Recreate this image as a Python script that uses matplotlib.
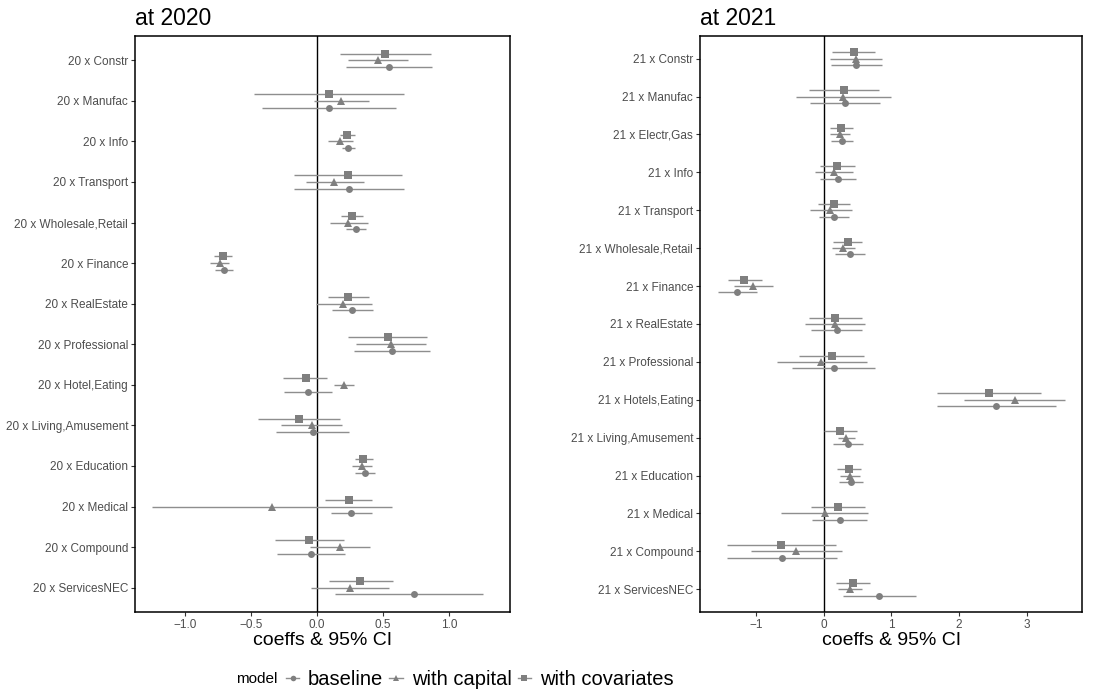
import numpy as np
import matplotlib.pyplot as plt
from matplotlib.lines import Line2D

plt.rcParams['font.family'] = ['Liberation Sans', 'DejaVu Sans']

# ---- data: 2020 ----
cats20 = ['Constr', 'Manufac', 'Info', 'Transport', 'Wholesale,Retail', 'Finance',
          'RealEstate', 'Professional', 'Hotel,Eating', 'Living,Amusement',
          'Education', 'Medical', 'Compound', 'ServicesNEC']

base20 = [0.543, 0.091, 0.237, 0.240, 0.295, -0.705, 0.268, 0.571, -0.068, -0.033, 0.364, 0.260, -0.045, 0.732]
base20_lo = [0.217, -0.414, 0.192, -0.174, 0.217, -0.773, 0.114, 0.283, -0.250, -0.308, 0.285, 0.109, -0.303, 0.136]
base20_hi = [0.871, 0.601, 0.285, 0.657, 0.374, -0.634, 0.424, 0.859, 0.116, 0.245, 0.442, 0.417, 0.215, 1.258]

cap20 = [0.462, 0.184, 0.177, 0.131, 0.237, -0.737, 0.199, 0.563, 0.205, -0.040, 0.338, -0.338, 0.172, 0.253]
cap20_lo = [0.237, -0.025, 0.086, -0.086, 0.096, -0.813, -0.008, 0.295, 0.126, -0.273, 0.265, -1.250, -0.056, -0.043]
cap20_hi = [0.692, 0.396, 0.275, 0.354, 0.384, -0.667, 0.417, 0.828, 0.283, 0.189, 0.417, 0.571, 0.404, 0.548]

cov20 = [0.515, 0.093, 0.227, 0.235, 0.263, -0.712, 0.235, 0.540, -0.086, -0.136, 0.351, 0.242, -0.058, 0.328]
cov20_lo = [0.172, -0.475, 0.172, -0.174, 0.184, -0.783, 0.086, 0.237, -0.255, -0.449, 0.285, 0.061, -0.318, 0.088]
cov20_hi = [0.864, 0.659, 0.288, 0.646, 0.348, -0.646, 0.396, 0.833, 0.073, 0.174, 0.422, 0.419, 0.205, 0.576]

# ---- data: 2021 ----
cats21 = ['Constr', 'Manufac', 'Electr,Gas', 'Info', 'Transport', 'Wholesale,Retail',
          'Finance', 'RealEstate', 'Professional', 'Hotels,Eating', 'Living,Amusement',
          'Education', 'Medical', 'Compound', 'ServicesNEC']

base21 = [0.473, 0.316, 0.271, 0.207, 0.153, 0.390, -1.282, 0.192, 0.148, 2.554, 0.360, 0.404, 0.237, -0.621, 0.823]
base21_lo = [0.113, -0.202, 0.108, -0.054, -0.074, 0.168, -1.568, -0.182, -0.473, 1.681, 0.143, 0.232, -0.173, -1.435, 0.281]
base21_hi = [0.858, 0.838, 0.439, 0.473, 0.380, 0.607, -0.991, 0.567, 0.759, 3.432, 0.577, 0.582, 0.641, 0.202, 1.366]

cap21 = [0.483, 0.291, 0.237, 0.148, 0.094, 0.291, -1.045, 0.163, -0.035, 2.821, 0.325, 0.390, 0.015, -0.409, 0.394]
cap21_lo = [0.099, -0.404, 0.094, -0.128, -0.202, 0.118, -1.331, -0.281, -0.695, 2.076, 0.217, 0.237, -0.631, -1.075, 0.217]
cap21_hi = [0.868, 1.001, 0.390, 0.434, 0.414, 0.468, -0.754, 0.616, 0.636, 3.570, 0.459, 0.542, 0.656, 0.266, 0.572]

cov21 = [0.444, 0.301, 0.261, 0.197, 0.148, 0.365, -1.174, 0.173, 0.118, 2.441, 0.247, 0.375, 0.217, -0.626, 0.434]
cov21_lo = [0.128, -0.222, 0.094, -0.059, -0.089, 0.143, -1.420, -0.217, -0.365, 1.681, 0.005, 0.202, -0.192, -1.435, 0.182]
cov21_hi = [0.764, 0.819, 0.429, 0.459, 0.394, 0.567, -0.917, 0.562, 0.597, 3.215, 0.498, 0.557, 0.611, 0.178, 0.680]

models = ['baseline', 'with capital', 'with covariates']
markers = {'baseline': 'o', 'with capital': '^', 'with covariates': 's'}
offsets = {'baseline': 0.167, 'with capital': 0.0, 'with covariates': -0.167}
pt_col = '#7f7f7f'
ln_col = '#8e8e8e'


def forest(ax, prefix, cats, series, xlim, xticks, xticklabels, title):
    n = len(cats)
    y = np.arange(n)
    for m in models:
        est, lo, hi = series[m]
        yy = y + offsets[m]
        ax.hlines(yy, lo, hi, color=ln_col, lw=1.0, zorder=2)
        ax.plot(est, yy, linestyle='none', marker=markers[m], color=pt_col,
                markersize=5.5 if m != 'baseline' else 5, markeredgewidth=0, zorder=3)
    ax.axvline(0, color='black', lw=1.0, zorder=1)
    ax.set_ylim(n - 0.4, -0.6)
    ax.set_xlim(*xlim)
    ax.set_yticks(y)
    ax.set_yticklabels([prefix + ' x ' + c for c in cats], fontsize=8.5, color='#4d4d4d')
    ax.set_xticks(xticks)
    ax.set_xticklabels(xticklabels, fontsize=8.5, color='#4d4d4d')
    ax.tick_params(length=3, width=0.8, color='#333333', pad=2)
    for s in ax.spines.values():
        s.set_linewidth(1.1)
    ax.set_xlabel('coeffs & 95% CI', fontsize=14, labelpad=1)
    ax.set_title(title, fontsize=16.5, loc='left', pad=8)


fig = plt.figure(figsize=(10.99, 6.94), dpi=100)
ax1 = fig.add_axes([0.1228, 0.1182, 0.3412, 0.830])
ax2 = fig.add_axes([0.6370, 0.1182, 0.3476, 0.830])

s20 = {'baseline': (base20, base20_lo, base20_hi),
       'with capital': (cap20, cap20_lo, cap20_hi),
       'with covariates': (cov20, cov20_lo, cov20_hi)}
s21 = {'baseline': (base21, base21_lo, base21_hi),
       'with capital': (cap21, cap21_lo, cap21_hi),
       'with covariates': (cov21, cov21_lo, cov21_hi)}

forest(ax1, '20', cats20, s20, (-1.379, 1.462), [-1.0, -0.5, 0.0, 0.5, 1.0],
       ['\u22121.0', '\u22120.5', '0.0', '0.5', '1.0'], 'at 2020')
forest(ax2, '21', cats21, s21, (-1.83, 3.82), [-1, 0, 1, 2, 3],
       ['\u22121', '0', '1', '2', '3'], 'at 2021')

handles = [Line2D([], [], color=ln_col, lw=1.0, marker=markers[m], markersize=4,
                  markerfacecolor=pt_col, markeredgewidth=0) for m in models]
fig.legend(handles, models, ncol=3, loc='center left', bbox_to_anchor=(286 / 1099, 0.021),
           frameon=False, fontsize=14.5, handlelength=0.65, handletextpad=0.45,
           columnspacing=0.3, borderpad=0, borderaxespad=0)
fig.text(0.215, 0.021, 'model', fontsize=11, va='center', ha='left')

fig.savefig('out.png', dpi=100)
